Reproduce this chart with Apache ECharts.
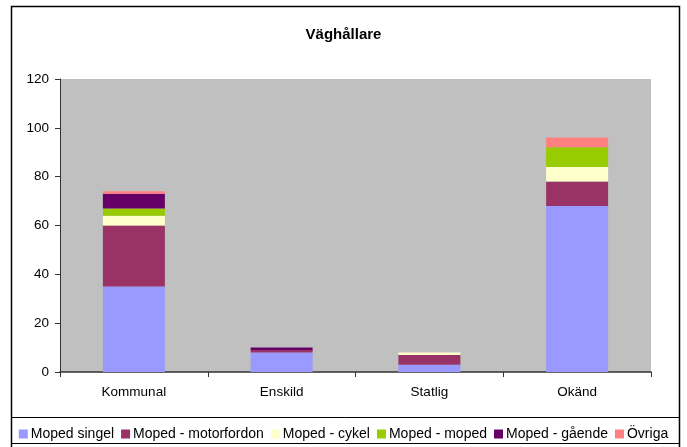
<!DOCTYPE html>
<html><head><meta charset="utf-8">
<script src="https://cdn.jsdelivr.net/npm/echarts@6/dist/echarts.min.js"></script>
<style>html,body{margin:0;padding:0;background:#fff}#c{width:687px;height:447px}</style>
</head><body><div id="c"></div>
<script>
var categories = ['Kommunal', 'Enskild', 'Statlig', 'Okänd'];
var seriesNames = ['Moped singel', 'Moped - motorfordon', 'Moped - cykel', 'Moped - moped', 'Moped - gående', 'Övriga'];
var mopedSingel = [35, 8, 3, 68];
var mopedMotorfordon = [25, 1, 4, 10];
var mopedCykel = [4, 0, 1, 6];
var mopedMoped = [3, 0, 0, 8];
var mopedGaende = [6, 1, 0, 0];
var ovriga = [1, 0, 0, 4];
var yTicks = [0, 20, 40, 60, 80, 100, 120];
var colors = ['#9999FF', '#993366', '#FFFFCC', '#99CC00', '#660066', '#FF8080'];

var values = [mopedSingel, mopedMotorfordon, mopedCykel, mopedMoped, mopedGaende, ovriga];
var font = 'Liberation Sans, Arial, sans-serif';
var chart = echarts.init(document.getElementById('c'), null, {renderer: 'canvas'});
chart.setOption({
  animation: false,
  color: colors,
  title: {
    text: 'Väghållare', left: 'center', top: 22,
    textStyle: {fontFamily: font, fontSize: 15, fontWeight: 'bold', color: '#000'}
  },
  graphic: [
    {type: 'rect', shape: {x: 11.5, y: 6.5, width: 668, height: 460}, style: {fill: null, stroke: '#000', lineWidth: 1.5}, z: 100},
    {type: 'rect', shape: {x: 11.5, y: 417.5, width: 668, height: 26}, style: {fill: null, stroke: '#000', lineWidth: 1}, z: 100}
  ],
  legend: {
    data: seriesNames, top: 422, left: 'center',
    itemWidth: 9, itemHeight: 9, itemGap: 7, icon: 'rect',
    textStyle: {fontFamily: font, fontSize: 14, color: '#000', padding: [0, 0, 0, -2]}
  },
  grid: {left: 60, right: 36, top: 79, bottom: 75, show: true, backgroundColor: '#C0C0C0', borderWidth: 0},
  xAxis: {
    type: 'category', data: categories,
    axisLine: {lineStyle: {color: '#333', width: 1.5}},
    axisTick: {show: true, length: 5, lineStyle: {color: '#333'}},
    axisLabel: {fontFamily: font, fontSize: 13.5, color: '#000', margin: 13}
  },
  yAxis: {
    type: 'value', min: 0, max: 120, interval: 20,
    axisLine: {show: true, lineStyle: {color: '#333', width: 1}},
    axisTick: {show: true, length: 5, lineStyle: {color: '#333'}},
    splitLine: {show: false},
    axisLabel: {fontFamily: font, fontSize: 13.5, color: '#000', margin: 11,
      formatter: function (v) { return yTicks.indexOf(v) >= 0 ? String(v) : ''; }}
  },
  series: seriesNames.map(function (n, i) {
    return {name: n, type: 'bar', stack: 'total', data: values[i], barWidth: 62, itemStyle: {color: colors[i]}};
  })
});
</script></body></html>
